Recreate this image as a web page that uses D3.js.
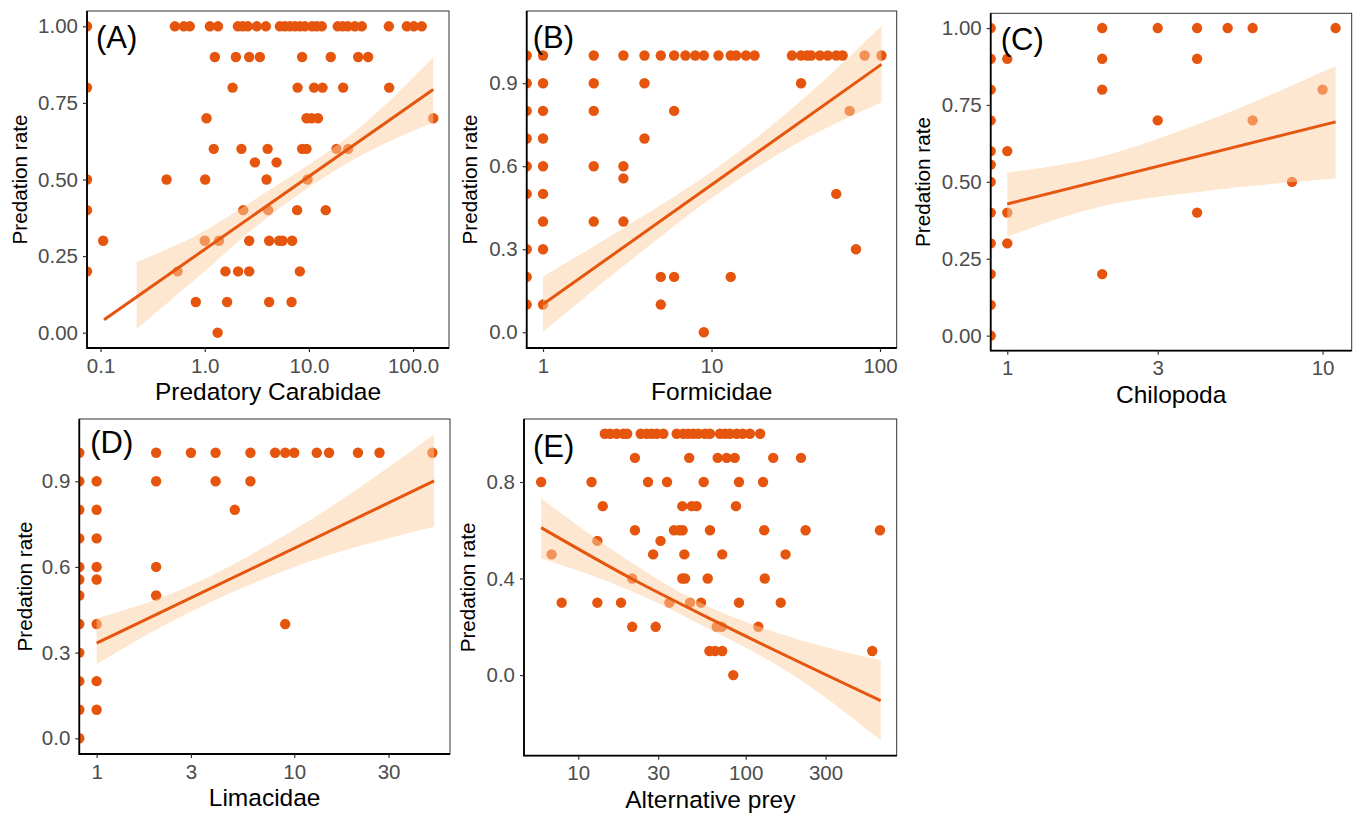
<!DOCTYPE html>
<html>
<head>
<meta charset="utf-8">
<script src="https://cdn.jsdelivr.net/npm/d3@7"></script>
<style>
  body { margin: 0; background: #fff; }
  svg { display: block; font-family: "Liberation Sans", Arial, sans-serif; }
</style>
</head>
<body>
<div id="chart"></div>
<script>
// Predation rate vs. abundance, five panels (log x axes)
// rows: [predation rate, [abundance values]] ; 0 = no individuals (drawn at the left edge)

const carabidaeRows = [
  [1.0, [0, 0.517, 0.63, 0.719, 1.12, 1.34, 2.08, 2.32, 2.59, 3.16, 3.86, 5.26, 5.87, 6.56, 7.32, 8.18, 9.13, 10.7, 11.9, 13.3, 18.9, 21.1, 23.6, 27.6, 32.2, 58.5, 87, 101.6, 121]],
  [0.9, [1.25, 1.99, 2.67, 3.38, 8.6, 16.2, 29.7, 37]],
  [0.8, [0, 1.85, 7.78, 11.2, 13.5, 21.3, 58.9]],
  [0.7, [1.04, 9.48, 10.6, 12.2, 156]],
  [0.6, [1.22, 2.25, 4.01, 8.6, 9.48, 18.4, 23.8]],
  [0.556, [3.03, 4.89]],
  [0.5, [0, 0.43, 1.01, 3.92, 9.7]],
  [0.4, [0, 2.34, 4.06, 7.7, 14.5]],
  [0.3, [0.106, 1.0, 1.37, 2.67, 4.15, 5.18, 5.58, 6.9]],
  [0.2, [0, 0.548, 1.58, 2.09, 2.67, 8.18]],
  [0.1, [0.821, 1.64, 4.15, 6.81]],
  [0.0, [1.33]]
]

const formicidaeRows = [
  [1.0, [0, 1, 2, 3, 4, 5, 6, 7, 8, 9, 11, 13, 14, 16, 18, 30, 34, 37, 39, 44, 49, 55, 60, 81, 102]],
  [0.9, [0, 1, 2, 4, 34]],
  [0.8, [0, 1, 2, 6, 66]],
  [0.7, [0, 1, 4]],
  [0.6, [0, 1, 2, 3]],
  [0.556, [3]],
  [0.5, [0, 1, 55]],
  [0.4, [1, 2, 3]],
  [0.3, [0, 1, 72]],
  [0.2, [0, 5, 6, 13]],
  [0.1, [0, 1, 5]],
  [0.0, [9]]
]

const chilopodaRows = [
  [1.0, [0, 2, 3, 4, 5, 6, 11]],
  [0.9, [0, 1, 2, 4]],
  [0.8, [0, 2, 10]],
  [0.7, [0, 3, 6]],
  [0.6, [0, 1]],
  [0.556, [0]],
  [0.5, [0, 8]],
  [0.4, [0, 1, 4]],
  [0.3, [0, 1]],
  [0.2, [0, 2]],
  [0.1, [0]],
  [0.0, [0]]
]

const limacidaeRows = [
  [1.0, [0, 2, 3, 4, 6, 8, 9, 10, 13, 15, 21, 27, 50]],
  [0.9, [0, 1, 2, 4, 6]],
  [0.8, [0, 1, 5]],
  [0.7, [0, 1]],
  [0.6, [0, 1, 2]],
  [0.556, [0, 1]],
  [0.5, [0, 2]],
  [0.4, [0, 1, 9]],
  [0.3, [0]],
  [0.2, [0, 1]],
  [0.1, [0, 1]],
  [0.0, [0]]
]

const preyRows = [
  [1.0, [14.4, 15.5, 16.9, 18.6, 19.6, 23.6, 25.6, 27.4, 29.4, 32.2, 38.7, 42.4, 45.4, 48.6, 52.1, 57.1, 61.2, 70.2, 75.2, 80.5, 88.3, 95.9, 106, 122]],
  [0.9, [21.8, 46, 68, 77, 86, 146, 214]],
  [0.8, [6.0, 12.0, 26.1, 33.9, 56.1, 91.2, 127]],
  [0.7, [14.0, 41.8, 47.6, 50.9, 87.5]],
  [0.6, [21.8, 37.3, 40.1, 42.0, 61.2, 129, 228, 634]],
  [0.556, [13.0, 31.0]],
  [0.5, [6.93, 28.0, 43.0, 72.4, 173]],
  [0.4, [21.0, 41.8, 43.4, 59.3, 130]],
  [0.3, [7.96, 13.0, 18.0, 35.0, 46.5, 54.1, 91.2, 162]],
  [0.2, [21.0, 29.0, 67.1, 71.9, 119]],
  [0.1, [60.7, 65.6, 72.4, 570]],
  [0.0, [84.3]]
]

// fitted lines [x, y] and confidence bands [x, lower, upper]
const carabidaeFit = [[0.108, 0.042], [156, 0.794]]
const carabidaeBand = [[0.222, 0.012, 0.231], [0.85, 0.18, 0.32], [3.7, 0.367, 0.454], [33.6, 0.583, 0.681], [156, 0.686, 0.899]]
const formicidaeFit = [[1, 0.101], [102, 0.968]]
const formicidaeBand = [[1, 0.002, 0.201], [3.16, 0.25, 0.385], [10, 0.485, 0.58], [31.6, 0.68, 0.82], [102, 0.83, 1.107]]
const chilopodaFit = [[1, 0.428], [11, 0.695]]
const chilopodaBand = [[1, 0.322, 0.531], [1.97, 0.419, 0.582], [4.08, 0.468, 0.69], [11, 0.511, 0.877]]
const limacidaeFit = [[1, 0.333], [51, 0.901]]
const limacidaeBand = [[1, 0.259, 0.42], [2.26, 0.4, 0.5], [10, 0.6, 0.73], [51, 0.741, 1.064]]
const preyFit = [[6.0, 0.611], [21, 0.398], [70, 0.214], [640, -0.106]]
const preyBand = [[6.0, 0.484, 0.732], [20.4, 0.35, 0.47], [50, 0.22, 0.31], [202, -0.01, 0.15], [640, -0.27, 0.062]]

// axis ticks
const carabidaeXTicks = [0.1, 1, 10, 100]
const formicidaeXTicks = [1, 10, 100]
const chilopodaXTicks = [1, 3, 10]
const limacidaeXTicks = [1, 3, 10, 30]
const preyXTicks = [10, 30, 100, 300]
const quarterTicks = [0, 0.25, 0.5, 0.75, 1]
const tenthTicks = [0, 0.3, 0.6, 0.9]
const preyYTicks = [0, 0.4, 0.8]

const dotColor = "#e6550d"
const bandColor = "#fdd0a2"

const panels = [
  { label: "(A)", title: "Predatory Carabidae", rows: carabidaeRows, fit: carabidaeFit, band: carabidaeBand,
    xTicks: carabidaeXTicks, xFmt: d3.format(".1f"), yTicks: quarterTicks, yFmt: d3.format(".2f"),
    xDomain: [0.0741, 221], yDomain: [-0.05, 1.05],
    box: [87, 11, 449, 348], yTitleX: 20, labelDx: 9, labelY: 48 },
  { label: "(B)", title: "Formicidae", rows: formicidaeRows, fit: formicidaeFit, band: formicidaeBand,
    xTicks: formicidaeXTicks, xFmt: d3.format("d"), yTicks: tenthTicks, yFmt: d3.format(".1f"),
    xDomain: [0.8, 125.6], yDomain: [-0.057, 1.161],
    box: [526.7, 11, 896.7, 348], yTitleX: 470, labelDx: 6, labelY: 48 },
  { label: "(C)", title: "Chilopoda", rows: chilopodaRows, fit: chilopodaFit, band: chilopodaBand,
    xTicks: chilopodaXTicks, xFmt: d3.format("d"), yTicks: quarterTicks, yFmt: d3.format(".2f"),
    xDomain: [0.886, 12.37], yDomain: [-0.049, 1.048],
    box: [990.7, 13.3, 1351.7, 350.7], yTitleX: 923, labelDx: 10, labelY: 50 },
  { label: "(D)", title: "Limacidae", rows: limacidaeRows, fit: limacidaeFit, band: limacidaeBand,
    xTicks: limacidaeXTicks, xFmt: d3.format("d"), yTicks: tenthTicks, yFmt: d3.format(".1f"),
    xDomain: [0.817, 61.4], yDomain: [-0.055, 1.118],
    box: [79.3, 419, 450, 754], yTitleX: 25, labelDx: 11, labelY: 453 },
  { label: "(E)", title: "Alternative prey", rows: preyRows, fit: preyFit, band: preyBand,
    xTicks: preyXTicks, xFmt: d3.format("d"), yTicks: preyYTicks, yFmt: d3.format(".1f"),
    xDomain: [4.74, 798], yDomain: [-0.334, 1.061],
    box: [524, 419, 896.7, 755.7], yTitleX: 468, labelDx: 9, labelY: 457 }
]

const svg = d3.select("#chart").append("svg").attr("width", 1357).attr("height", 816)
svg.append("rect").attr("width", 1357).attr("height", 816).attr("fill", "#fff")

panels.forEach((p, i) => {
  const [x0, y0, x1, y1] = p.box
  const x = d3.scaleLog().domain(p.xDomain).range([x0, x1])
  const y = d3.scaleLinear().domain(p.yDomain).range([y1, y0])
  // zero counts sit at -Inf on a log axis, i.e. the left edge
  const px = (v) => (v > 0 ? x(v) : x0)

  const points = p.rows.flatMap(([rate, xs]) => xs.map((v) => ({ x: v, y: rate })))

  const g = svg.append("g").attr("class", "panel")

  svg.append("clipPath").attr("id", `clip-${i}`)
    .append("rect").attr("x", x0).attr("y", y0).attr("width", x1 - x0).attr("height", y1 - y0)

  const plot = g.append("g").attr("clip-path", `url(#clip-${i})`)

  plot.selectAll(".dot")
    .data(points)
    .enter()
    .append("circle")
    .attr("class", "dot")
    .attr("cx", (d) => px(d.x))
    .attr("cy", (d) => y(d.y))
    .attr("r", 5.2)
    .style("fill", dotColor)

  const area = d3.area()
    .x((d) => x(d[0]))
    .y0((d) => y(d[1]))
    .y1((d) => y(d[2]))
    .curve(d3.curveMonotoneX)

  plot.append("path")
    .datum(p.band)
    .attr("d", area)
    .style("fill", bandColor)
    .style("opacity", 0.5)

  const line = d3.line()
    .x((d) => x(d[0]))
    .y((d) => y(d[1]))
    .curve(d3.curveMonotoneX)

  plot.append("path")
    .datum(p.fit)
    .attr("d", line)
    .style("fill", "none")
    .style("stroke", dotColor)
    .style("stroke-width", 3)

  // panel border
  g.append("rect")
    .attr("x", x0).attr("y", y0).attr("width", x1 - x0).attr("height", y1 - y0)
    .style("fill", "none").style("stroke", "#333").style("stroke-width", 1)
  g.append("path")
    .attr("d", `M${x0},${y0}V${y1}H${x1}`)
    .style("fill", "none").style("stroke", "#000").style("stroke-width", 1.8)

  // axes
  const xAxis = d3.axisBottom(x).tickValues(p.xTicks).tickFormat(p.xFmt).tickSize(4).tickPadding(6)
  const yAxis = d3.axisLeft(y).tickValues(p.yTicks).tickFormat(p.yFmt).tickSize(4).tickPadding(5)

  const gx = g.append("g").attr("transform", `translate(0,${y1})`).call(xAxis)
  const gy = g.append("g").attr("transform", `translate(${x0},0)`).call(yAxis)
  ;[gx, gy].forEach((ax) => {
    ax.select(".domain").remove()
    ax.selectAll(".tick line").style("stroke", "#333").style("stroke-width", 1.2)
    ax.selectAll(".tick text")
      .style("fill", "#4d4d4d")
      .style("font-size", "20.5px")
      .style("font-family", "Liberation Sans, Arial, sans-serif")
  })

  // titles
  g.append("text")
    .attr("x", (x0 + x1) / 2)
    .attr("y", y1 + 52)
    .style("text-anchor", "middle")
    .style("font-size", "24.5px")
    .style("fill", "#000")
    .text(p.title)

  g.append("text")
    .attr("transform", `translate(${p.yTitleX},${(y0 + y1) / 2}) rotate(-90)`)
    .attr("dy", "0.35em")
    .style("text-anchor", "middle")
    .style("font-size", "20.7px")
    .style("fill", "#000")
    .text("Predation rate")

  g.append("text")
    .attr("x", x0 + p.labelDx)
    .attr("y", p.labelY)
    .style("font-size", "31px")
    .style("fill", "#000")
    .text(p.label)
})
</script>
</body>
</html>
